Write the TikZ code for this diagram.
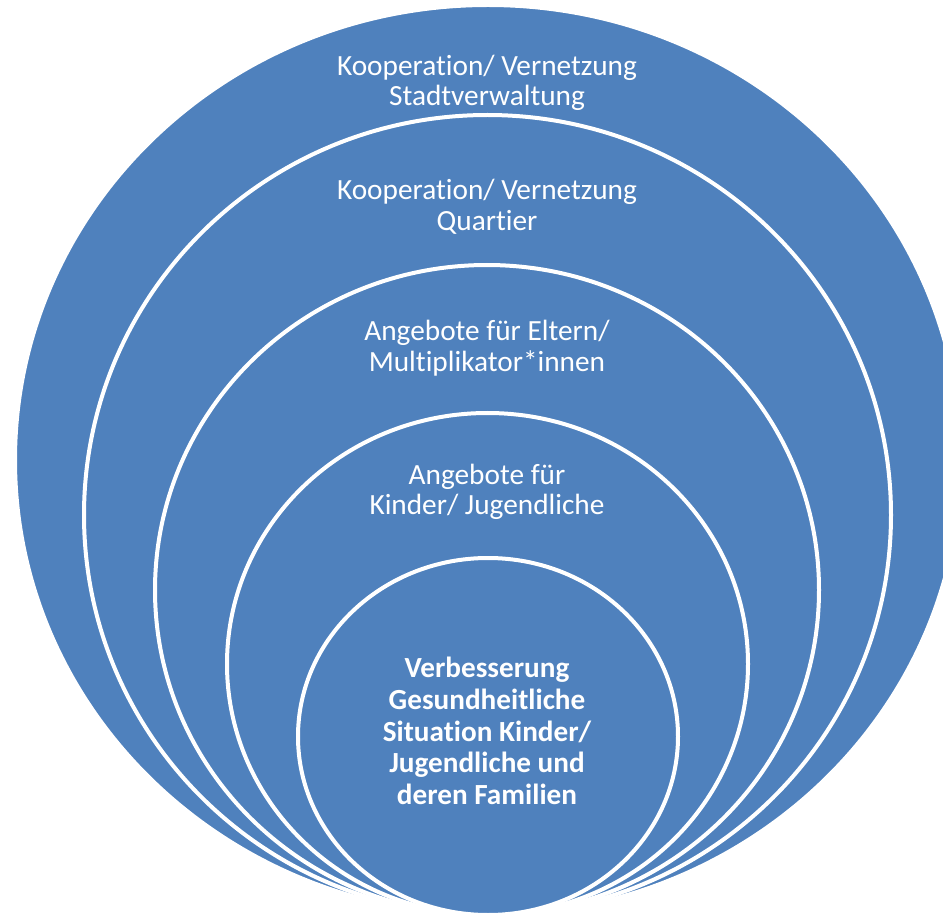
\documentclass[tikz,border=0pt]{standalone}
\usepackage{fontspec}
\setmainfont{Carlito}[Ligatures=NoCommon]
\usetikzlibrary{shapes.geometric}
\definecolor{ringblue}{RGB}{79,129,189}

\begin{document}
\begin{tikzpicture}[x=1pt, y=-1pt,
  ring/.style={ellipse, draw=white, line width=4pt, fill=ringblue, inner sep=0pt},
  ringtext/.style={text=white, align=center, font=\fontsize{29.3}{30.5}\selectfont}]
  \path[use as bounding box] (0,0) rectangle (943,917);
  \clip (0,0) rectangle (943,917);

  % Nested rings, all touching at the bottom
  \foreach \i/\cx/\cy/\rx/\ry in {1/488/460/473/455, 2/487.5/515/403.5/400,
      3/487/590/332/325, 4/487.5/664/260.5/251, 5/488/736.5/190/178.5}
    \node[ring, minimum width=2*\rx pt, minimum height=2*\ry pt] (r\i) at (\cx,\cy) {};

  % Ring labels
  \node[ringtext] (t1) at (487,83) {Kooperation/ Vernetzung\\Stadtverwaltung};
  \node[ringtext] (t2) at (487,207) {Kooperation/ Vernetzung\\Quartier};
  \node[ringtext] (t3) at (487,348) {Angebote für Eltern/\\Multiplikator*innen};
  \node[ringtext] (t4) at (487,492) {Angebote für\\Kinder/ Jugendliche};

  % Centre
  \node[ringtext, font=\fontsize{29.2}{31.8}\selectfont\bfseries] (t5) at (487,731)
    {Verbesserung\\Gesundheitliche\\Situation Kinder/\\Jugendliche und\\deren Familien};
\end{tikzpicture}
\end{document}
